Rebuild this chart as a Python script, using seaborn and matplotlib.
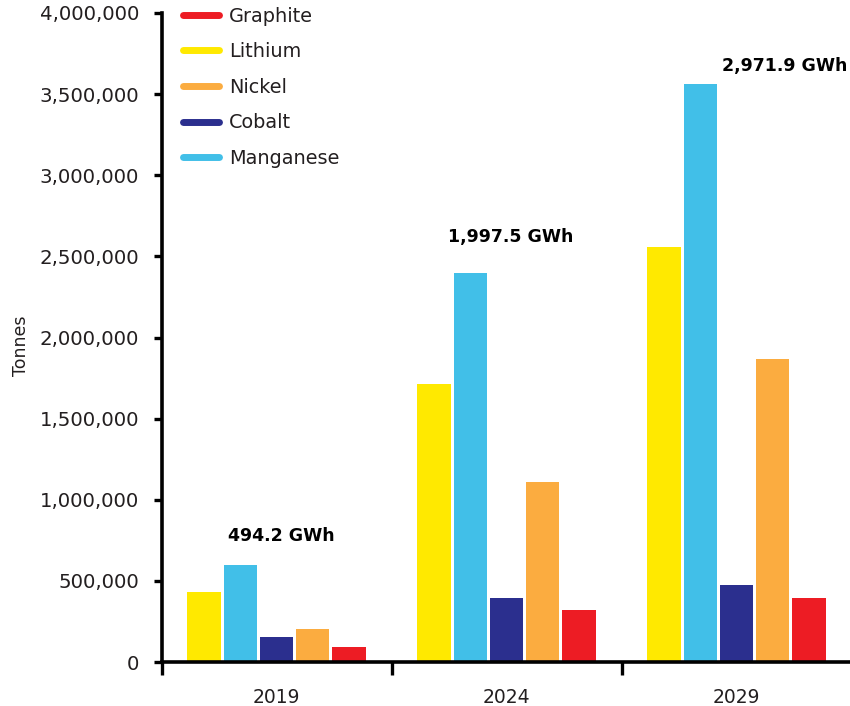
import matplotlib
matplotlib.use("Agg")
import matplotlib.pyplot as plt
from matplotlib.lines import Line2D
from matplotlib.ticker import FuncFormatter, FixedLocator
import seaborn as sns
import pandas as pd

# Battery mineral demand (tonnes) by year
years = ["2019", "2024", "2029"]
lithium = [430000, 1715000, 2558000]
manganese = [598000, 2400000, 3563000]
cobalt = [156000, 395000, 473000]
nickel = [204000, 1110000, 1868000]
graphite = [93000, 322000, 393000]

# Total battery capacity per year
capacity_labels = ["494.2 GWh", "1,997.5 GWh", "2,971.9 GWh"]

bar_order = ["Lithium", "Manganese", "Cobalt", "Nickel", "Graphite"]
legend_order = ["Graphite", "Lithium", "Nickel", "Cobalt", "Manganese"]
colors = {
    "Graphite": "#ED1C24",
    "Lithium": "#FFE900",
    "Nickel": "#FBAC40",
    "Cobalt": "#2B2F8E",
    "Manganese": "#41BFE8",
}

series = {"Lithium": lithium, "Manganese": manganese, "Cobalt": cobalt,
          "Nickel": nickel, "Graphite": graphite}
rows = []
for name, vals in series.items():
    for yr, v in zip(years, vals):
        rows.append({"year": yr, "mineral": name, "tonnes": v})
df = pd.DataFrame(rows)

sns.set_style("white")
plt.rcParams["font.family"] = ["DejaVu Sans"]
text_color = "#231F20"

fig = plt.figure(figsize=(8.5, 7.06), dpi=100)
ax = fig.add_axes([161.5 / 850, 1 - 662 / 706, 690 / 850, 649 / 706])

sns.barplot(data=df, x="year", y="tonnes", hue="mineral", hue_order=bar_order,
            palette=colors, width=0.785, gap=0.07, order=years,
            legend=False, ax=ax, linewidth=0, saturation=1)

ax.set_xlim(-0.5, 2.5)
ax.set_ylim(0, 4000000)
ax.set_yticks(range(0, 4000001, 500000))
ax.yaxis.set_major_formatter(FuncFormatter(lambda v, p: f"{int(v):,}"))

# Group separators as major ticks, year names as minor ticks
ax.xaxis.set_major_locator(FixedLocator([-0.5, 0.5, 1.5, 2.5]))
ax.set_xticklabels([])
ax.xaxis.set_minor_locator(FixedLocator([0, 1, 2]))
ax.set_xticklabels(years, minor=True)
ax.tick_params(axis="x", which="major", direction="out", length=9, width=2.4,
               color="black", bottom=True)
ax.tick_params(axis="x", which="minor", length=0, pad=19, labelsize=13.5,
               labelcolor=text_color)
ax.tick_params(axis="y", direction="out", length=6, width=2.4, color="black",
               left=True, pad=10, labelsize=14.2, labelcolor=text_color)

for side in ["top", "right"]:
    ax.spines[side].set_visible(False)
for side in ["left", "bottom"]:
    ax.spines[side].set_color("black")
    ax.spines[side].set_linewidth(2.6)

ax.set_xlabel("")
ax.set_ylabel("Tonnes", fontsize=12.5, color=text_color)
ax.yaxis.set_label_coords(-0.191, 0.487)

# Capacity annotations above each year group
label_pos = [(0.023, 776000), (1.019, 2619000), (2.211, 3673000)]
for (x, y), txt in zip(label_pos, capacity_labels):
    ax.text(x, y, txt, ha="center", va="center", fontsize=12.5,
            fontweight="bold", color="black")

handles = [Line2D([0], [0], color=colors[m], lw=5, solid_capstyle="round")
           for m in legend_order]
ax.legend(handles, legend_order, loc="upper left",
          bbox_to_anchor=(0.031, 1.010), frameon=False, fontsize=13.9,
          handlelength=1.85, handletextpad=0.55, labelspacing=0.86,
          borderpad=0, borderaxespad=0, labelcolor=text_color)

fig.savefig("out.png", dpi=100)
